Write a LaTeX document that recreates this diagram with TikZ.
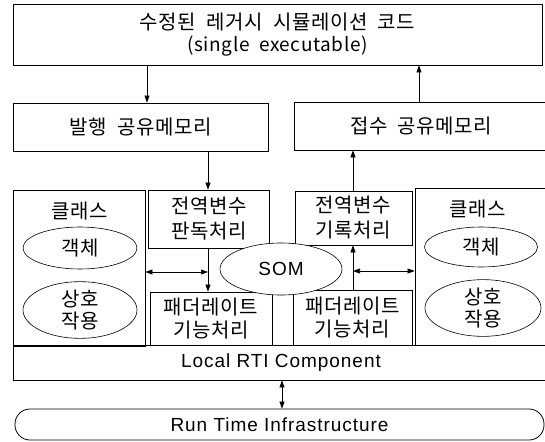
\documentclass[tikz,border=0pt]{standalone}
\usepackage{fontspec}
\setmainfont[LetterSpace=5]{Liberation Sans}
\newfontfamily\kr[LetterSpace=3,WordSpace=2]{Noto Sans CJK KR}
\usetikzlibrary{arrows.meta,shapes.geometric}
\newcommand\krt{\kr\fontsize{20}{25}\selectfont}
\newcommand\lat{\fontsize{19}{23}\selectfont}
\begin{document}
\begin{tikzpicture}[x=1pt,y=-1pt,
  box/.style={draw, line width=0.8pt, rectangle, inner sep=0pt, align=center, font=\krt},
  ell/.style={draw, line width=0.6pt, ellipse, inner sep=0pt, align=center, font=\krt},
  arr/.style={line width=0.6pt, -{Triangle[length=7pt,width=5pt]}},
  darr/.style={line width=0.6pt, {Triangle[length=7pt,width=5pt]}-{Triangle[length=7pt,width=5pt]}},
  lab/.style={inner sep=0pt, align=center, font=\krt}]
\useasboundingbox (0,0) rectangle (545,441);
\clip (0,0) rectangle (545,441);
% boxes
\node[box, minimum width=529pt, minimum height=61pt] (top) at (277.5,34.5)
  {수정된 레거시 시뮬레이션 코드\\[-3pt]\lat (single executable)};
\node[box, minimum width=255pt, minimum height=48pt] (pub) at (140.5,127) {발행 공유메모리};
\node[box, minimum width=254pt, minimum height=48pt] (rcv) at (421,126) {접수 공유메모리};
\node[box, minimum width=132pt, minimum height=156pt] (lclass) at (79,268) {};
\node[box, minimum width=133pt, minimum height=157pt] (rclass) at (481.5,266.5) {};
\node[box, minimum width=121pt, minimum height=58pt] (read) at (209,219) {전역변수\\판독처리};
\node[box, minimum width=117pt, minimum height=54pt] (write) at (353.5,218) {전역변수\\기록처리};
\node[box, minimum width=122pt, minimum height=53pt] (lfed) at (211,318.5) {패더레이트\\[-2pt]기능처리};
\node[box, minimum width=119pt, minimum height=55pt] (rfed) at (352.5,317.5) {패더레이트\\[-2pt]기능처리};
\node[box, font=\lat, minimum width=535pt, minimum height=35pt] (rti) at (281,362.5) {Local RTI Component};
\node[box, font=\lat, rounded corners=15pt, minimum width=529pt, minimum height=31pt] (infra) at (279.5,424.5) {Run Time Infrastructure};
% ellipses
\node[ell, font=\lat, fill=white, minimum width=122pt, minimum height=52pt] (som) at (281,269) {SOM};
\node[lab] (lcl) at (80,211) {클래스};
\node[lab] (rcl) at (478,209) {클래스};
\node[ell, minimum width=114pt, minimum height=42pt] (lobj) at (80,248) {객체};
\node[ell, minimum width=114pt, minimum height=48pt] (lint) at (80,310) {상호\\[-3pt]작용};
\node[ell, minimum width=113pt, minimum height=40pt] (robj) at (481,247) {객체};
\node[ell, minimum width=116pt, minimum height=50pt] (rint) at (483,308) {상호\\[-3pt]작용};
% reference x/y positions
\coordinate (xA) at (147,0);
\coordinate (xB) at (419,0);
\coordinate (xC) at (208,0);
\coordinate (xD) at (353,0);
\coordinate (xE) at (282,0);
\coordinate (yL) at (0,272);
\coordinate (yR) at (0,271);
\coordinate (jL) at (208,272);
\coordinate (jR) at (353,271);
% connectors
\draw[arr] (top.south -| xA) -- (pub.north -| xA);
\draw[arr] (rcv.north -| xB) -- (top.south -| xB);
\draw[arr] (pub.south -| xC) -- (read.north -| xC);
\draw[arr] (write.north -| xD) -- (rcv.south -| xD);
\draw[arr] (read.south -| xC) -- (lfed.north -| xC);
\draw[arr] (rfed.north -| xD) -- (write.south -| xD);
\draw[darr] (lclass.east |- yL) -- (jL);
\draw[darr] (jR) -- (rclass.west |- yR);
\draw[darr] (rti.south -| xE) -- (infra.north -| xE);
\end{tikzpicture}
\end{document}
